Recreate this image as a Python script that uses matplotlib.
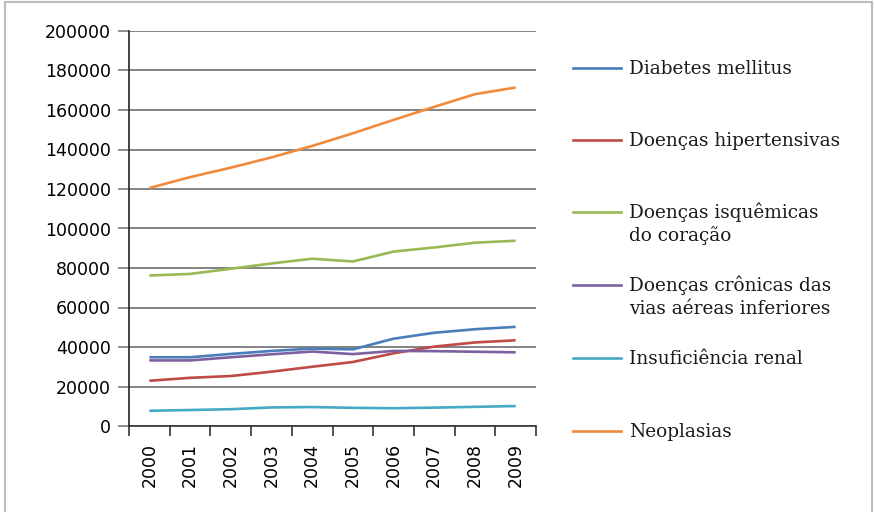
import matplotlib
matplotlib.use("Agg")
import matplotlib.pyplot as plt
from matplotlib.lines import Line2D
from matplotlib.patches import Rectangle

# data
years = ["2000", "2001", "2002", "2003", "2004", "2005", "2006", "2007", "2008", "2009"]
diabetes = [34800, 34800, 36500, 38000, 39200, 38800, 44200, 47200, 49000, 50200]
hipertensivas = [22900, 24400, 25300, 27500, 30000, 32400, 36800, 40200, 42300, 43400]
isquemicas = [76200, 77000, 79600, 82300, 84700, 83300, 88300, 90400, 92800, 93800]
cronicas = [33200, 33200, 34800, 36300, 37700, 36400, 38000, 37900, 37600, 37300]
renal = [7700, 8100, 8500, 9400, 9600, 9200, 9000, 9300, 9700, 10100]
neoplasias = [120500, 126000, 130800, 136000, 141800, 148200, 155000, 161600, 168000, 171400]

labels = ["Diabetes mellitus", "Doenças hipertensivas",
          "Doenças isquêmicas\ndo coração",
          "Doenças crônicas das\nvias aéreas inferiores",
          "Insuficiência renal", "Neoplasias"]
colors = ["#4A7EBB", "#BE4B48", "#98B954", "#7D60A0", "#46AAC5", "#F08A3C"]
series = [diabetes, hipertensivas, isquemicas, cronicas, renal, neoplasias]

W, H = 874, 512
fig = plt.figure(figsize=(W / 100, H / 100), dpi=100)
fig.patch.set_facecolor("white")

# outer frame
fig.add_artist(Rectangle((5 / W, -0.02), (872 - 5) / W, 1.02 - 2 / H,
                         transform=fig.transFigure, fill=False,
                         edgecolor="#bdbdbd", linewidth=1.5))

ax = fig.add_axes([129 / W, 1 - 426 / H, (536 - 129) / W, (426 - 31) / H])
x = list(range(len(years)))
for vals, c, lab in zip(series, colors, labels):
    ax.plot(x, vals, color=c, linewidth=1.9, label=lab, solid_capstyle="butt")

ax.set_xlim(-0.5, len(years) - 0.5)
ax.set_ylim(0, 200000)
ax.set_yticks(range(0, 200001, 20000))
ax.set_yticklabels([str(v) for v in range(0, 200001, 20000)])
ax.yaxis.grid(True, color="#7a7a7a", linewidth=1.3)
ax.set_axisbelow(True)

# category boundaries carry tick marks, labels sit at centres
ax.set_xticks([i - 0.5 for i in range(len(years) + 1)])
ax.set_xticklabels([])
ax.set_xticks(x, minor=True)
ax.set_xticklabels(years, minor=True, rotation=90, fontsize=12.5)
ax.tick_params(axis="x", which="minor", length=0, pad=12)
ax.tick_params(axis="x", which="major", length=7, width=1.2, color="#333333")
ax.tick_params(axis="y", length=8, width=1.2, color="#7a7a7a", labelsize=12.5, pad=5)

for s in ["top", "right"]:
    ax.spines[s].set_visible(False)
ax.spines["left"].set_color("#222222")
ax.spines["bottom"].set_color("#333333")
ax.spines["left"].set_linewidth(1.2)
ax.spines["bottom"].set_linewidth(1.2)

# legend drawn by hand to match the even Excel spacing
handle_y = [68, 140, 212, 285, 358, 431]
for yy, c, lab in zip(handle_y, colors, labels):
    fy = 1 - yy / H
    fig.add_artist(Line2D([573 / W, 621 / W], [fy, fy], transform=fig.transFigure,
                          color=c, linewidth=1.9))
    for k, line in enumerate(lab.split("\n")):
        fig.text(629 / W, 1 - (yy + 6 + 23 * k) / H, line, fontsize=13.3,
                 family="DejaVu Serif", color="#1a1a1a", va="baseline", ha="left")

fig.savefig("out.png", dpi=100)
